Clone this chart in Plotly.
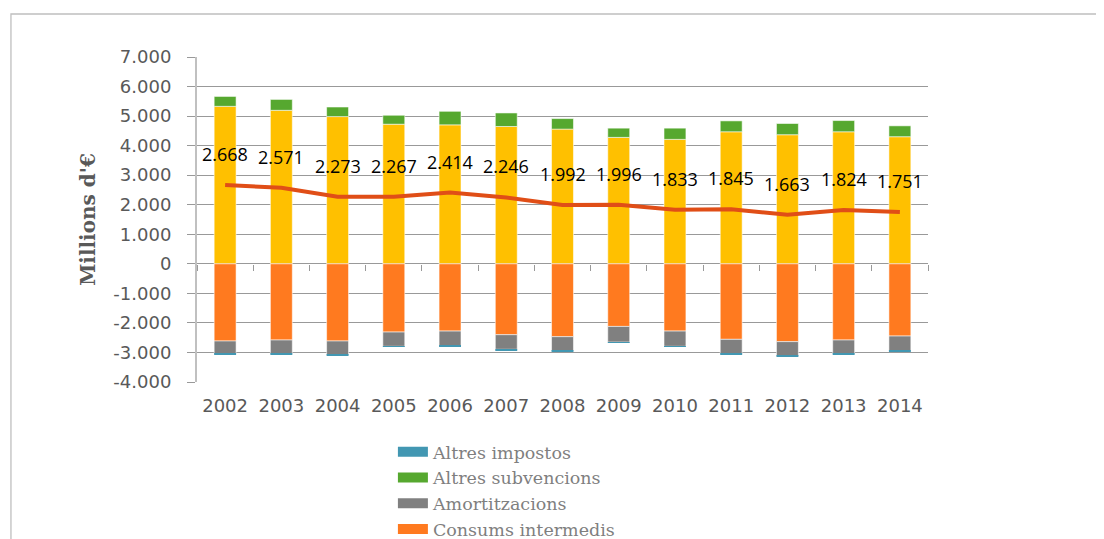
import plotly.graph_objects as go

years = [str(y) for y in range(2002, 2015)]

# Positive stack
produccio = [5330, 5196, 4983, 4726, 4704, 4648, 4559, 4279, 4212, 4469, 4369, 4469, 4302]
altres_subvencions = [335, 368, 324, 302, 458, 458, 357, 313, 380, 369, 380, 380, 368]
# Negative stack
consums_intermedis = [-2612, -2578, -2612, -2309, -2276, -2399, -2466, -2119, -2276, -2556, -2634, -2578, -2444]
amortitzacions = [-437, -460, -471, -482, -504, -493, -482, -527, -515, -482, -483, -471, -493]
altres_impostos = [-23, -22, -22, -23, -23, -34, -34, -22, -23, -22, -22, -23, -33]
# Line
resultat = [2668, 2571, 2273, 2267, 2414, 2246, 1992, 1996, 1833, 1845, 1663, 1824, 1751]

y_tickvals = [7000, 6000, 5000, 4000, 3000, 2000, 1000, 0, -1000, -2000, -3000, -4000]
y_ticktext = ["7.000", "6.000", "5.000", "4.000", "3.000", "2.000", "1.000", "0",
              "-1.000", "-2.000", "-3.000", "-4.000"]

C_YELLOW = "#FFC000"
C_GREEN = "#56A82F"
C_GRAY = "#808080"
C_ORANGE = "#FF7A1F"
C_BLUE = "#4297B2"
C_LINE = "#E04E17"

def fmt(v):
    return f"{v:,}".replace(",", ".")

edge = dict(color="rgba(255,255,255,0.55)", width=1)

fig = go.Figure()
fig.add_trace(go.Bar(x=years, y=produccio, name="Producció", marker=dict(color=C_YELLOW, line=edge),
                     showlegend=False))
fig.add_trace(go.Bar(x=years, y=altres_subvencions, name="Altres subvencions",
                     marker=dict(color=C_GREEN, line=edge), showlegend=False))
fig.add_trace(go.Bar(x=years, y=consums_intermedis, name="Consums intermedis",
                     marker=dict(color=C_ORANGE, line=edge), showlegend=False))
fig.add_trace(go.Bar(x=years, y=amortitzacions, name="Amortitzacions",
                     marker=dict(color=C_GRAY, line=edge), showlegend=False))
fig.add_trace(go.Bar(x=years, y=altres_impostos, name="Altres impostos",
                     marker=dict(color=C_BLUE, line=dict(width=0)), showlegend=False))
fig.add_trace(go.Scatter(x=years, y=resultat, mode="lines", name="Resultat",
                         line=dict(color=C_LINE, width=4), showlegend=False))

# Legend entries (wide swatches)
for name, col in [("Altres impostos", C_BLUE), ("Altres subvencions", C_GREEN),
                  ("Amortitzacions", C_GRAY), ("Consums intermedis", C_ORANGE)]:
    fig.add_trace(go.Scatter(x=[years[0]], y=[None], mode="lines", name=name,
                             line=dict(color=col, width=10), showlegend=True))

# Dummy trace for zero-line tick axis
fig.add_trace(go.Scatter(x=years, y=[None] * len(years), xaxis="x2", mode="lines",
                         showlegend=False, hoverinfo="skip"))

# Data labels for the line (category index positions)
for i, v in enumerate(resultat):
    fig.add_annotation(x=i, y=v, xref="x", yref="y", text=fmt(v), showarrow=False, yshift=31,
                       font=dict(family="Open Sans", size=18, color="#000000"))

fig.add_shape(type="rect", xref="paper", yref="paper", x0=-0.2545, x1=1.5, y0=-0.8, y1=1.1323,
              line=dict(color="#BFBFBF", width=1.3), fillcolor="rgba(0,0,0,0)", layer="below")

fig.update_layout(
    width=1096, height=531,
    margin=dict(l=189, r=176, t=49, b=157),
    paper_bgcolor="white", plot_bgcolor="white",
    barmode="relative", bargap=0.61,
    font=dict(family="DejaVu Sans", color="#595959"),
    showlegend=True,
    legend=dict(x=0.268, y=0.198, xref="paper", yref="container", xanchor="left", yanchor="top",
                font=dict(family="DejaVu Serif", size=17.5, color="#7F7F7F"),
                tracegroupgap=0, bgcolor="rgba(0,0,0,0)"),
    xaxis=dict(type="category", categoryarray=years, categoryorder="array", range=[-0.5, 12.5],
               showgrid=False, showline=False, ticks="outside", ticklen=7,
               tickcolor="rgba(0,0,0,0)", tickfont=dict(family="DejaVu Sans", size=18, color="#595959")),
    xaxis2=dict(type="category", categoryarray=years, categoryorder="array", range=[-0.5, 12.5],
                overlaying="x", anchor="free", position=4000 / 11000,
                side="bottom", showgrid=False, showline=False, ticks="outside", tickson="boundaries",
                ticklen=6, tickcolor="#999999", tickwidth=1, showticklabels=False),
    yaxis=dict(range=[-4000, 7000], tickvals=y_tickvals, ticktext=y_ticktext,
               showgrid=True, gridcolor="#999999", gridwidth=1, zeroline=False,
               showline=True, linecolor="#C0C0C0", linewidth=2,
               ticks="outside", ticklen=8, tickcolor="#999999", ticklabelstandoff=12,
               tickfont=dict(family="DejaVu Sans", size=18, color="#595959"),
               title=dict(text="<b>Millions d'€</b>", standoff=12,
                          font=dict(family="DejaVu Serif", size=20, color="#595959"))),
)

fig.write_html("out.html")
